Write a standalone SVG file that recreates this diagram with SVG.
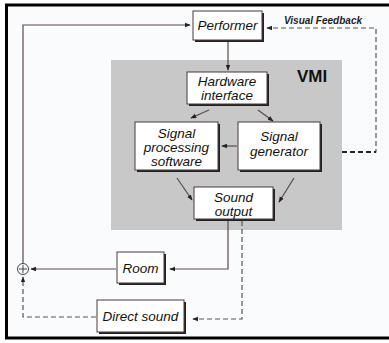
<svg xmlns="http://www.w3.org/2000/svg" width="389" height="343" viewBox="0 0 389 343">
<defs>
<style>
.box{fill:#ffffff;stroke:#4a3a3a;stroke-width:1}
.sh{fill:#222222}
.t{font-family:"Liberation Sans",Arial,sans-serif;font-style:italic;font-size:13.5px;fill:#111;text-anchor:middle}
.ln{fill:none;stroke:#5a4a4a;stroke-width:1.2}
.ds{fill:none;stroke:#555;stroke-width:1.2;stroke-dasharray:5,3}
</style>
<marker id="ah" viewBox="0 0 8 8" refX="7" refY="4" markerWidth="6" markerHeight="6" orient="auto" markerUnits="userSpaceOnUse">
<path d="M0,1 L8,4 L0,7 z" fill="#222"/>
</marker>
</defs>
<rect x="0" y="0" width="389" height="343" fill="#ffffff"/>
<rect x="6.5" y="5" width="383" height="333" fill="#fafbfd"/>
<path d="M389,5 H6.5 V338 H389" fill="none" stroke="#000" stroke-width="3"/>
<rect x="111" y="60" width="231" height="170" fill="#c8c8c8"/>
<text x="297" y="82" font-family="Liberation Sans,Arial,sans-serif" font-weight="bold" font-size="17" fill="#111">VMI</text>

<g id="connectors">
<path class="ln" d="M23,263 V25 H190" marker-end="url(#ah)"/>
<path class="ln" d="M228,42 V70" marker-end="url(#ah)"/>
<path class="ln" d="M209,110 L191,118" marker-end="url(#ah)"/>
<path class="ln" d="M258,110 L273,121" marker-end="url(#ah)"/>
<path class="ln" d="M237,146 H222" marker-end="url(#ah)"/>
<path class="ln" d="M177,178 L192,200" marker-end="url(#ah)"/>
<path class="ln" d="M294,178 L279,202" marker-end="url(#ah)"/>
<path class="ln" d="M228,221 V269 H170" marker-end="url(#ah)"/>
<path class="ln" d="M116,269 H31" marker-end="url(#ah)"/>
<path class="ds" d="M242,221 V319 H193" marker-end="url(#ah)"/>
<path class="ds" d="M96,317 H23 V277" marker-end="url(#ah)"/>
<path class="ds" d="M342,152 H376 V28 H267" marker-end="url(#ah)"/>
<path d="M342,152 H376" fill="none" stroke="#222" stroke-width="2" stroke-dasharray="5,3"/>
<text x="323" y="24" font-family="Liberation Sans,Arial,sans-serif" font-weight="bold" font-style="italic" font-size="10" fill="#222" text-anchor="middle">Visual Feedback</text>
<g id="sum">
<circle cx="23" cy="269" r="5.5" fill="#fafbfd" stroke="#444" stroke-width="1"/>
<path d="M19,269 H27 M23,265 V273" stroke="#444" stroke-width="1"/>
</g>
</g>

<g id="performer">
<rect class="sh" x="195" y="13" width="69" height="29"/>
<rect class="box" x="193" y="11" width="69" height="29"/>
<text class="t" x="227.5" y="30">Performer</text>
</g>
<g id="hardware">
<rect class="sh" x="189" y="74" width="80" height="32"/>
<rect class="box" x="187" y="72" width="80" height="32"/>
<text class="t" x="227" y="86">Hardware</text>
<text class="t" x="227" y="100">interface</text>
</g>
<g id="sps">
<rect class="sh" x="137" y="124" width="83" height="48"/>
<rect class="box" x="135" y="122" width="83" height="48"/>
<text class="t" x="176.5" y="138">Signal</text>
<text class="t" x="176.5" y="152">processing</text>
<text class="t" x="176.5" y="166">software</text>
</g>
<g id="generator">
<rect class="sh" x="240" y="124" width="82" height="48"/>
<rect class="box" x="238" y="122" width="82" height="48"/>
<text class="t" x="279" y="141">Signal</text>
<text class="t" x="279" y="156">generator</text>
</g>
<g id="sound">
<rect class="sh" x="196" y="189" width="79" height="32"/>
<rect class="box" x="194" y="187" width="79" height="32"/>
<text class="t" x="233.5" y="202">Sound</text>
<text class="t" x="233.5" y="216">output</text>
</g>
<g id="room">
<rect class="sh" x="119" y="254" width="47" height="31"/>
<rect class="box" x="117" y="252" width="47" height="31"/>
<text class="t" x="140.5" y="273">Room</text>
</g>
<g id="direct">
<rect class="sh" x="99" y="302" width="87" height="32"/>
<rect class="box" x="97" y="300" width="87" height="32"/>
<text class="t" x="140.5" y="321">Direct sound</text>
</g>
</svg>
